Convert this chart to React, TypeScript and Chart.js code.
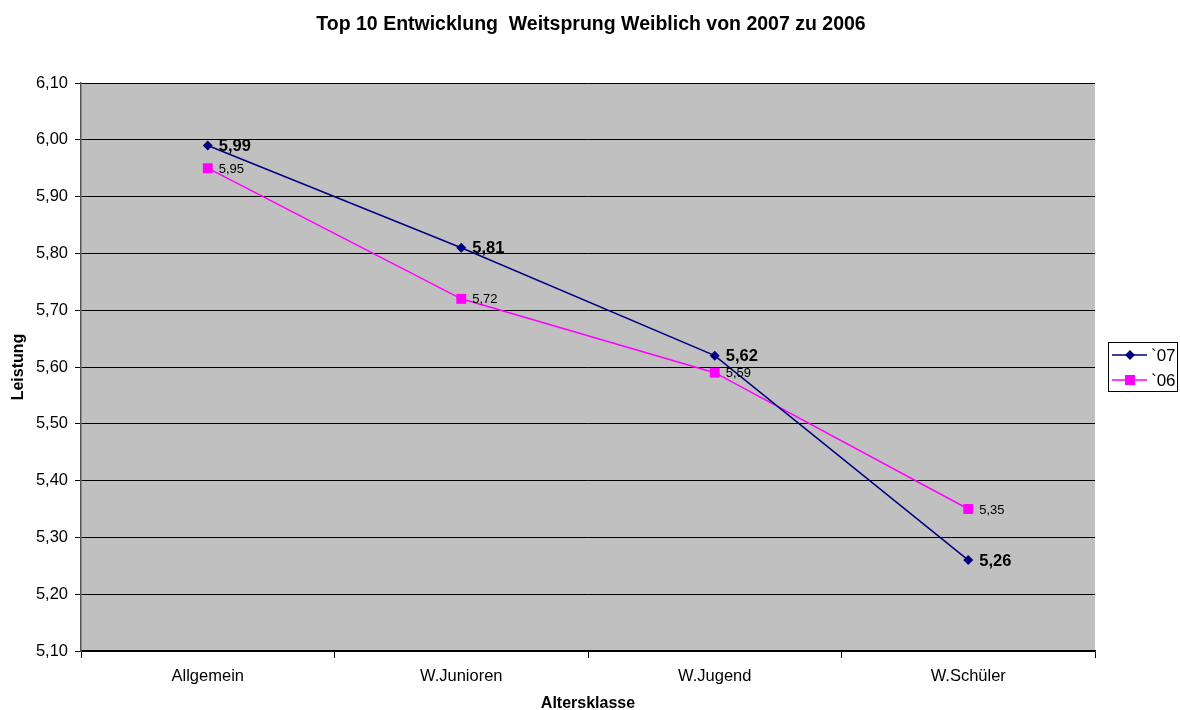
import React, { useEffect, useRef } from "react";
import { Chart, registerables } from "chart.js";

Chart.register(...registerables);

const categories = ["Allgemein", "W.Junioren", "W.Jugend", "W.Schüler"];
const series07 = [5.99, 5.81, 5.62, 5.26];
const series06 = [5.95, 5.72, 5.59, 5.35];
const seriesNames = ["`07", "`06"];
const titleText = "Top 10 Entwicklung  Weitsprung Weiblich von 2007 zu 2006";
const xTitle = "Altersklasse";
const yTitle = "Leistung";
const yMin = 5.1;
const yMax = 6.1;

const fmt = (v: number) => (Math.round(v * 100) / 100).toFixed(2).replace(".", ",");

const FONT = "Arial, 'Liberation Sans', sans-serif";

export default function App() {
  const ref = useRef<HTMLCanvasElement | null>(null);
  useEffect(() => {
    document.body.style.margin = "0";
    const canvas = ref.current!;
    const bgPlugin = {
      id: "bg",
      beforeDraw(chart: any) {
        const { ctx, chartArea } = chart;
        ctx.save();
        ctx.fillStyle = "#ffffff";
        ctx.fillRect(0, 0, chart.width, chart.height);
        ctx.fillStyle = "#C0C0C0";
        ctx.fillRect(chartArea.left, chartArea.top, chartArea.right - chartArea.left, chartArea.bottom - chartArea.top);
        ctx.restore();
      },
    };
    const overlay = {
      id: "overlay",
      afterDraw(chart: any) {
        const { ctx } = chart;
        ctx.save();
        // title
        ctx.fillStyle = "#000";
        ctx.font = `bold 19.5px ${FONT}`;
        ctx.textAlign = "center";
        ctx.textBaseline = "alphabetic";
        ctx.fillText(titleText, 591, 30);
        // data labels
        chart.data.datasets.forEach((ds: any, i: number) => {
          const meta = chart.getDatasetMeta(i);
          meta.data.forEach((pt: any, j: number) => {
            const v = ds.data[j];
            ctx.textAlign = "left";
            ctx.textBaseline = "middle";
            if (i === 0) {
              ctx.font = `bold 16.5px ${FONT}`;
              ctx.fillText(fmt(v), pt.x + 11, pt.y + 1);
            } else {
              ctx.font = `13px ${FONT}`;
              ctx.fillText(fmt(v), pt.x + 11, pt.y + 1);
            }
          });
        });
        // legend
        const lx = 1108, ly = 342, lw = 69, lh = 49;
        ctx.fillStyle = "#fff";
        ctx.fillRect(lx, ly, lw, lh);
        ctx.strokeStyle = "#000";
        ctx.lineWidth = 1;
        ctx.strokeRect(lx + 0.5, ly + 0.5, lw, lh);
        chart.data.datasets.forEach((ds: any, i: number) => {
          const y = ly + 13 + i * 25;
          ctx.strokeStyle = ds.borderColor;
          ctx.lineWidth = 1.5;
          ctx.beginPath();
          ctx.moveTo(lx + 4, y);
          ctx.lineTo(lx + 39, y);
          ctx.stroke();
          ctx.fillStyle = ds.borderColor;
          const cx = lx + 22;
          if (i === 0) {
            ctx.beginPath();
            ctx.moveTo(cx, y - 5);
            ctx.lineTo(cx + 5, y);
            ctx.lineTo(cx, y + 5);
            ctx.lineTo(cx - 5, y);
            ctx.closePath();
            ctx.fill();
          } else {
            ctx.fillRect(cx - 5, y - 5, 10, 10);
          }
          ctx.fillStyle = "#000";
          ctx.font = `17px ${FONT}`;
          ctx.textAlign = "left";
          ctx.textBaseline = "middle";
          ctx.fillText(seriesNames[i], lx + 43, y + 1);
        });
        ctx.restore();
      },
    };
    const chart = new Chart(canvas, {
      type: "line",
      data: {
        labels: categories,
        datasets: [
          {
            label: seriesNames[0],
            data: series07,
            borderColor: "#000080",
            backgroundColor: "#000080",
            borderWidth: 1.5,
            pointStyle: "rectRot",
            pointRadius: 5,
            pointBorderWidth: 0,
            tension: 0,
          },
          {
            label: seriesNames[1],
            data: series06,
            borderColor: "#FF00FF",
            backgroundColor: "#FF00FF",
            borderWidth: 1.5,
            pointStyle: "rect",
            pointRadius: 7,
            pointBorderWidth: 0,
            tension: 0,
          },
        ],
      },
      options: {
        animation: false,
        responsive: false,
        layout: { padding: { top: 83, right: 85, left: 0, bottom: 0 } },
        plugins: { legend: { display: false }, title: { display: false }, tooltip: { enabled: false } },
        scales: {
          x: {
            type: "category",
            offset: true,
            grid: { offset: true, drawOnChartArea: false, drawTicks: true, tickLength: 7, color: "#000", lineWidth: 1 },
            border: { color: "#000", width: 1.5 },
            ticks: { color: "#000", font: { family: FONT, size: 16.5 }, padding: 9, maxRotation: 0 },
            title: { display: true, text: xTitle, color: "#000", font: { family: FONT, size: 16, weight: "bold" }, padding: { top: 0, bottom: -3 } },
            afterFit(scale: any) { scale.height = 59; },
          },
          y: {
            min: yMin,
            max: yMax,
            grid: { color: "#000", lineWidth: 1, tickLength: 6, drawTicks: true },
            border: { color: "#555", width: 1.5 },
            ticks: {
              stepSize: 0.1,
              color: "#000",
              font: { family: FONT, size: 16.5 },
              padding: 7,
              callback: (v: any) => fmt(Number(v)),
            },
            title: { display: true, text: yTitle, color: "#000", font: { family: FONT, size: 16, weight: "bold" }, padding: { top: 9, bottom: 0 } },
            afterFit(scale: any) { scale.width = 81; },
          },
        },
      },
      plugins: [bgPlugin, overlay],
    } as any);
    return () => chart.destroy();
  }, []);
  return (
    <div style={{ width: 1180, height: 710 }}>
      <canvas ref={ref} width={1180} height={710} />
    </div>
  );
}
